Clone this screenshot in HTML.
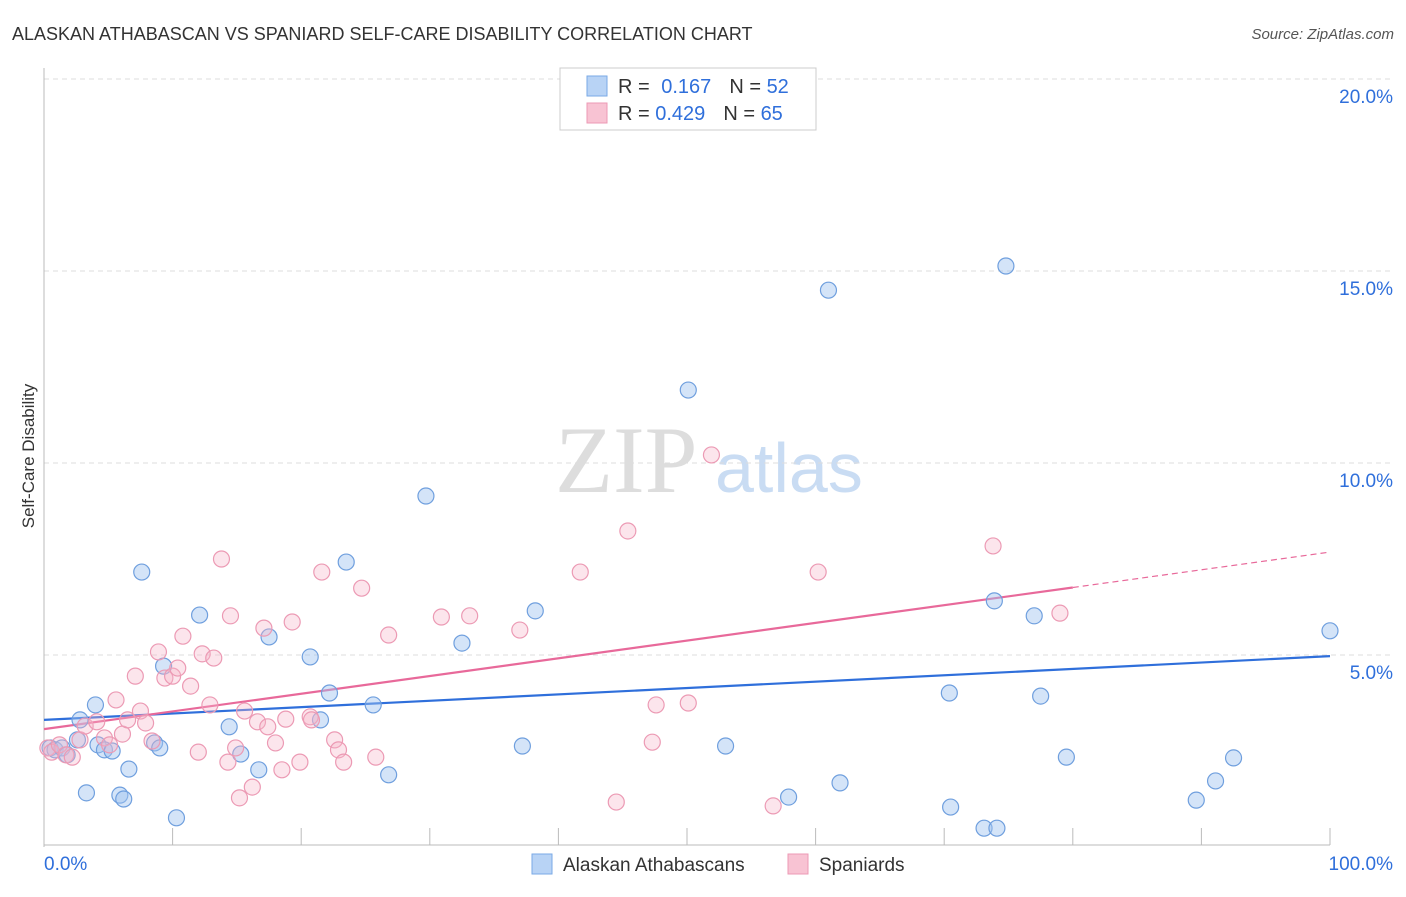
<!DOCTYPE html>
<html><head><meta charset="utf-8"><style>
body{margin:0;width:1406px;height:892px;background:#fff;font-family:"Liberation Sans",sans-serif;overflow:hidden}
</style></head><body>
<svg id="chart" width="1406" height="892" xmlns="http://www.w3.org/2000/svg">
<text x="12" y="40" font-size="18" fill="#333">ALASKAN ATHABASCAN VS SPANIARD SELF-CARE DISABILITY CORRELATION CHART</text>
<text x="1394" y="39" font-size="15" fill="#555" font-style="italic" text-anchor="end">Source: ZipAtlas.com</text>
<text x="34" y="456" font-size="17" fill="#333" text-anchor="middle" transform="rotate(-90 34 456)">Self-Care Disability</text>
<text x="555" y="492" font-size="95" fill="#ddd" font-family="Liberation Serif,serif">ZIP</text>
<text x="715" y="492" font-size="70" fill="#c9dcf3">atlas</text>
<g id="grid"></g><g id="axes"></g><g id="lines"></g><g id="pts"></g>
<g>
<rect x="560" y="68" width="256" height="62" fill="#fff" stroke="#ccc"/>
<rect x="587" y="76" width="20" height="20" fill="#b8d3f5" stroke="#7aa9e6"/>
<rect x="587" y="103" width="20" height="20" fill="#f8c3d3" stroke="#ec9ab4"/>
<text x="618" y="93" font-size="20" fill="#333">R = <tspan fill="#2f6fdb" dx="6">0.167</tspan><tspan dx="18" fill="#333">N = </tspan><tspan fill="#2f6fdb">52</tspan></text>
<text x="618" y="120" font-size="20" fill="#333">R = <tspan fill="#2f6fdb">0.429</tspan><tspan dx="18" fill="#333">N = </tspan><tspan fill="#2f6fdb">65</tspan></text>
</g>
<g>
<rect x="532" y="854" width="20" height="20" fill="#b8d3f5" stroke="#7aa9e6"/>
<text x="563" y="871" font-size="19" fill="#333">Alaskan Athabascans</text>
<rect x="788" y="854" width="20" height="20" fill="#f8c3d3" stroke="#ec9ab4"/>
<text x="819" y="871" font-size="19" fill="#333">Spaniards</text>
</g>
</svg>
<script>
const yTicks=[5,10,15,20];
const yTickLabels=["5.0%","10.0%","15.0%","20.0%"];
const xTickLabels=["0.0%","100.0%"];
const blueX=[0.47,0.86,1.4,1.8,2.6,2.8,3.3,4.0,4.2,4.7,5.3,5.9,6.2,6.6,7.6,8.6,9.0,9.3,10.3,12.1,14.4,15.3,16.7,17.5,20.7,21.5,22.2,23.5,25.6,26.8,29.7,32.5,37.2,38.2,50.1,53.0,57.9,61.0,61.9,70.4,70.5,73.1,73.9,74.1,74.8,77.0,77.5,79.5,89.6,91.1,92.5,100];
const blueY=[2.58,2.53,2.58,2.40,2.79,3.31,1.41,3.70,2.66,2.53,2.50,1.35,1.25,2.03,7.16,2.71,2.58,4.71,0.76,6.04,3.13,2.42,2.01,5.47,4.95,3.31,4.01,7.42,3.70,1.88,9.14,5.31,2.63,6.15,11.9,2.63,1.30,14.5,1.67,4.01,1.04,0.49,6.41,0.49,15.13,6.02,3.93,2.34,1.22,1.72,2.32,5.63];
const pinkX=[0.3,0.6,1.2,1.7,2.2,2.8,3.2,4.1,4.7,5.1,5.6,6.1,6.5,7.1,7.5,7.9,8.4,8.9,9.4,10.0,10.4,10.8,11.4,12.0,12.3,12.9,13.2,13.8,14.3,14.5,15.2,15.6,16.2,16.6,17.1,17.4,18.0,18.5,19.3,18.8,19.9,20.7,21.6,22.6,22.9,23.3,24.7,25.8,26.8,30.9,33.1,37.0,41.7,44.5,45.4,47.3,47.6,50.1,51.9,56.7,60.2,73.8,79.0,20.8,14.9];
const pinkY=[2.58,2.47,2.66,2.40,2.34,2.79,3.15,3.26,2.84,2.66,3.83,2.94,3.31,4.45,3.54,3.23,2.76,5.08,4.40,4.45,4.66,5.49,4.19,2.47,5.03,3.70,4.92,7.5,2.21,6.02,1.28,3.54,1.56,3.26,5.70,3.13,2.71,2.01,5.86,3.33,2.21,3.39,7.16,2.79,2.53,2.21,6.74,2.34,5.52,5.99,6.02,5.65,7.16,1.17,8.23,2.73,3.70,3.75,10.21,1.07,7.16,7.84,6.09,3.31,2.58];
const blueTrend=[3.31,4.97];
const pinkTrend=[3.07,7.68];
const pinkSolidEnd=80;
const NS="http://www.w3.org/2000/svg";
const X=v=>44+v*12.86, Y=v=>847-v*38.4;
function mk(t,a,p){const e=document.createElementNS(NS,t);for(const k in a)e.setAttribute(k,a[k]);document.getElementById(p).appendChild(e);return e;}
yTicks.forEach((t,i)=>{
 const g=mk('line',{x1:44,x2:1394,y1:Y(t),y2:Y(t),stroke:'#ddd','stroke-dasharray':'5,4'},'grid');
 
 
 const l=mk('text',{x:1393,y:Y(t)+24,'font-size':19,fill:'#2f6fdb','text-anchor':'end'},'axes');
 l.textContent=yTickLabels[i];
 
 
});
mk('line',{x1:44,x2:44,y1:68,y2:847,stroke:'#bbb'},'axes');
mk('line',{x1:44,x2:1330,y1:845,y2:845,stroke:'#bbb'},'axes');
for(let i=0;i<=10;i++){mk('line',{x1:X(i*10),x2:X(i*10),y1:828,y2:845,stroke:'#bbb'},'axes');}
const xl0=mk('text',{x:44,y:870,'font-size':19,fill:'#2f6fdb'},'axes');xl0.textContent=xTickLabels[0];


const xl1=mk('text',{x:1393,y:870,'font-size':19,fill:'#2f6fdb','text-anchor':'end'},'axes');xl1.textContent=xTickLabels[1];


blueX.forEach((x,i)=>{const c=mk('circle',{cx:X(x),cy:Y(blueY[i]),r:8,fill:'rgba(160,196,240,0.45)',stroke:'#6f9fde','stroke-width':1.2},'pts');
 
 });
pinkX.forEach((x,i)=>{const c=mk('circle',{cx:X(x),cy:Y(pinkY[i]),r:8,fill:'rgba(246,180,200,0.35)',stroke:'#ec9ab4','stroke-width':1.2},'pts');
 
 });
const pf=x=>pinkTrend[0]+(pinkTrend[1]-pinkTrend[0])*x/100;
const bl=mk('line',{x1:X(0),y1:Y(blueTrend[0]),x2:X(100),y2:Y(blueTrend[1]),stroke:'#2f6fdb','stroke-width':2.2},'lines');


const pl=mk('line',{x1:X(0),y1:Y(pf(0)),x2:X(pinkSolidEnd),y2:Y(pf(pinkSolidEnd)),stroke:'#e8699a','stroke-width':2.2},'lines');


const pd=mk('line',{x1:X(pinkSolidEnd),y1:Y(pf(pinkSolidEnd)),x2:X(100),y2:Y(pf(100)),stroke:'#e8699a','stroke-width':1.2,'stroke-dasharray':'6,4'},'lines');


</script>
</body></html>
